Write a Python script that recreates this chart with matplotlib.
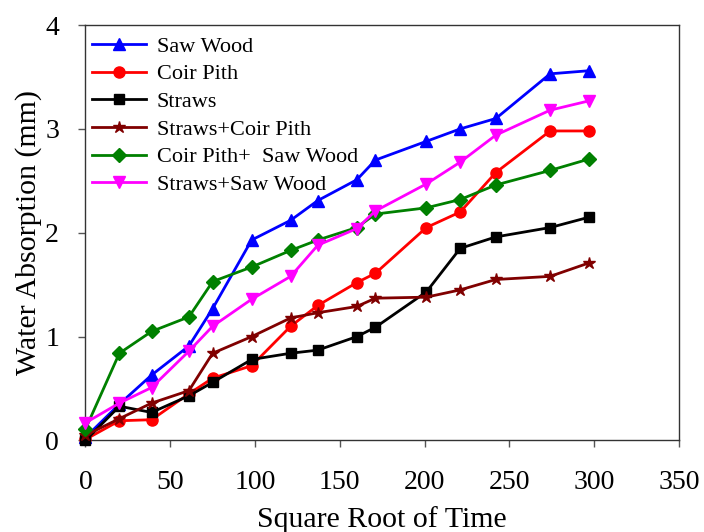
import matplotlib
matplotlib.use("Agg")
import matplotlib.pyplot as plt

# square root of time (x positions, shared by all series)
time_sqrt = [0, 20, 39, 61, 75, 98, 121, 137, 160, 171, 201, 221, 242, 274, 297]

saw_wood = [0.03, 0.35, 0.63, 0.91, 1.27, 1.93, 2.12, 2.31, 2.51, 2.70, 2.88, 3.00, 3.10, 3.53, 3.56]
coir_pith = [0.01, 0.19, 0.20, 0.45, 0.60, 0.72, 1.10, 1.30, 1.52, 1.61, 2.05, 2.20, 2.58, 2.98, 2.98]
straws = [0.00, 0.33, 0.27, 0.43, 0.56, 0.78, 0.84, 0.87, 1.00, 1.09, 1.43, 1.85, 1.96, 2.05, 2.15]
straws_coir = [0.05, 0.21, 0.36, 0.48, 0.84, 1.00, 1.18, 1.23, 1.29, 1.37, 1.38, 1.45, 1.55, 1.58, 1.71]
coir_saw = [0.11, 0.84, 1.05, 1.19, 1.53, 1.67, 1.83, 1.93, 2.05, 2.18, 2.24, 2.32, 2.46, 2.60, 2.71]
straws_saw = [0.17, 0.36, 0.51, 0.86, 1.10, 1.36, 1.58, 1.88, 2.04, 2.21, 2.47, 2.68, 2.94, 3.18, 3.27]

labels = ["Saw Wood", "Coir Pith", "Straws", "Straws+Coir Pith",
          "Coir Pith+  Saw Wood", "Straws+Saw Wood"]
colors = ["#0000ff", "#ff0000", "#000000", "#800000", "#008000", "#ff00ff"]
markers = ["^", "o", "s", "*", "D", "v"]
sizes = [8, 8, 7, 9, 7, 8]

plt.rcParams['font.family'] = ['Liberation Serif', 'DejaVu Serif']

fig = plt.figure(figsize=(7.04, 5.32), dpi=100)
ax = fig.add_axes([0.1214, 0.172, 0.9645 - 0.1214, 0.953 - 0.172])

series = [saw_wood, coir_pith, straws, straws_coir, coir_saw, straws_saw]
for ys, lab, c, m, ms in zip(series, labels, colors, markers, sizes):
    ax.plot(time_sqrt, ys, color=c, marker=m, markersize=ms, linewidth=2,
            label=lab, clip_on=False, zorder=3)

ax.set_xlim(0, 350)
ax.set_ylim(0, 4)
ax.set_xticks(range(0, 351, 50))
ax.set_yticks(range(0, 5))

for sp in ax.spines.values():
    sp.set_color("#333333")
    sp.set_linewidth(1.0)

ax.tick_params(axis='x', direction='out', length=5, width=1, color="#555555",
               labelsize=20, pad=16)
ax.tick_params(axis='y', direction='out', length=5, width=1, color="#555555",
               labelsize=20, pad=14)

ax.set_xlabel("Square Root of Time", fontsize=21.5, labelpad=8)
ax.set_ylabel("Water Absorption (mm)", fontsize=21.5, labelpad=2)

ax.legend(loc="upper left", bbox_to_anchor=(0.0118, 0.973), frameon=False,
          fontsize=16, handlelength=2.4, handletextpad=0.5, labelspacing=0.32,
          borderaxespad=0, borderpad=0)

fig.savefig("out.png", dpi=100)
